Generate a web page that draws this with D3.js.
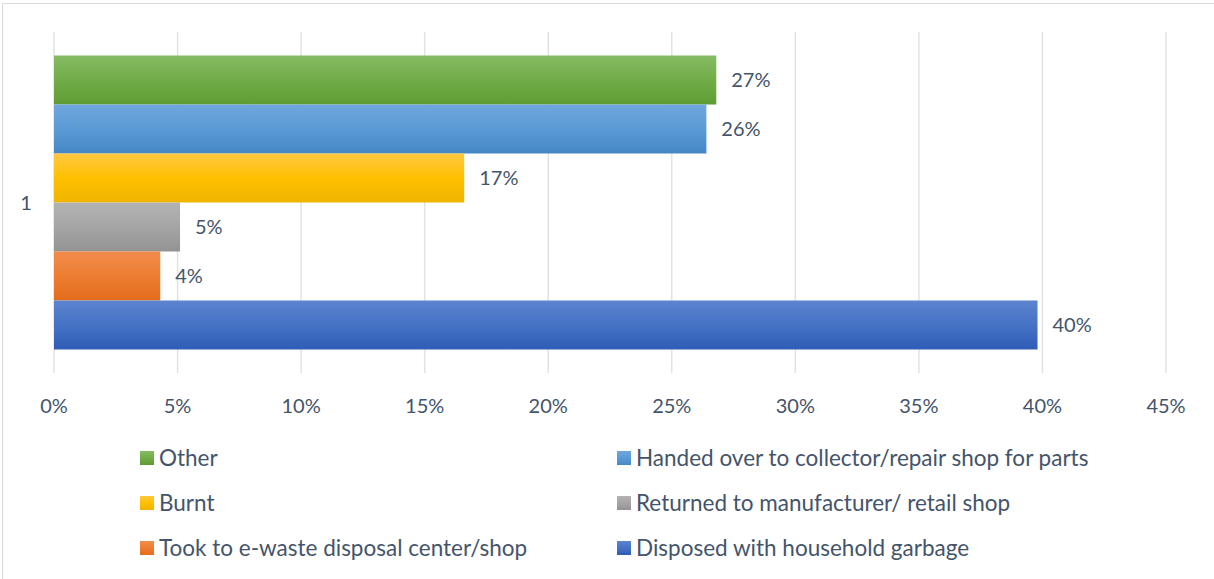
<!DOCTYPE html>
<html>
<head>
<meta charset="utf-8">
<script src="https://cdn.jsdelivr.net/npm/d3@7"></script>
<style>
  html, body { margin: 0; padding: 0; background: #fff; }
  svg { display: block; }
  text { font-family: Lato, "Open Sans", sans-serif; fill: #44546a; }
</style>
</head>
<body>
<svg id="chart" width="1214" height="579"></svg>
<script>
// Series, drawn top to bottom in this order
const seriesNames = [
  "Other",
  "Handed over to collector/repair shop for parts",
  "Burnt",
  "Returned to manufacturer/ retail shop",
  "Took to e-waste disposal center/shop",
  "Disposed with household garbage"
];
const seriesValues = [0.268, 0.264, 0.166, 0.051, 0.043, 0.398];
// [top, base, bottom] gradient colours for each series
const seriesColors = [
  ["#86bb64", "#70ad47", "#5e9c33"],
  ["#70a6de", "#5b9bd5", "#4586c6"],
  ["#ffc843", "#ffc000", "#f0b400"],
  ["#b3b3b3", "#a5a5a5", "#939393"],
  ["#f28c4c", "#ed7d31", "#e46b1c"],
  ["#5c84cf", "#4472c4", "#2f5db7"]
];
const categories = ["1"];
const xTicks = [0, 0.05, 0.10, 0.15, 0.20, 0.25, 0.30, 0.35, 0.40, 0.45];

const svg = d3.select("#chart");
const defs = svg.append("defs");

// Chart frame
svg.append("path")
  .attr("d", "M2.5,579 V3.5 H1214")
  .attr("fill", "none")
  .attr("stroke", "#d9d9d9")
  .attr("stroke-width", 1);

const plot = { left: 54, right: 1166, top: 32, bottom: 373 };

const x = d3.scaleLinear().domain([0, 0.45]).range([plot.left, plot.right]);
const yCat = d3.scaleBand().domain(categories).range([plot.top, plot.bottom]).paddingInner(0).paddingOuter(0.08);
const ySer = d3.scaleBand().domain(seriesNames).range([0, yCat.bandwidth()]);

// Vertical gridlines
svg.append("g")
  .selectAll("line")
  .data(xTicks)
  .join("line")
  .attr("x1", d => x(d)).attr("x2", d => x(d))
  .attr("y1", plot.top).attr("y2", plot.bottom)
  .attr("stroke", "#dfe2e7")
  .attr("stroke-width", 1.5);

// Gradients
seriesColors.forEach((c, i) => {
  const g = defs.append("linearGradient")
    .attr("id", "grad" + i)
    .attr("x1", 0).attr("y1", 0).attr("x2", 0).attr("y2", 1);
  g.append("stop").attr("offset", "0%").attr("stop-color", c[0]);
  g.append("stop").attr("offset", "50%").attr("stop-color", c[1]);
  g.append("stop").attr("offset", "100%").attr("stop-color", c[2]);
});

const rows = seriesNames.map((name, i) => ({ name, value: seriesValues[i], i }));
const catY = yCat(categories[0]);

// Bars
svg.append("g")
  .selectAll("rect")
  .data(rows)
  .join("rect")
  .attr("x", x(0))
  .attr("y", d => catY + ySer(d.name))
  .attr("width", d => x(d.value) - x(0))
  .attr("height", ySer.bandwidth())
  .attr("fill", d => "url(#grad" + d.i + ")");

// Value labels
const pct = d3.format(".0%");
svg.append("g")
  .selectAll("text")
  .data(rows)
  .join("text")
  .attr("x", d => x(d.value) + 15)
  .attr("y", d => catY + ySer(d.name) + ySer.bandwidth() / 2)
  .attr("dy", "0.35em")
  .attr("font-size", 20)
  .text(d => pct(d.value));

// Category label
svg.append("text")
  .attr("x", 26)
  .attr("y", catY + yCat.bandwidth() / 2)
  .attr("dy", "0.35em")
  .attr("text-anchor", "middle")
  .attr("font-size", 20)
  .text(categories[0]);

// X axis tick labels
svg.append("g")
  .selectAll("text")
  .data(xTicks)
  .join("text")
  .attr("x", d => x(d))
  .attr("y", 406)
  .attr("dy", "0.35em")
  .attr("text-anchor", "middle")
  .attr("font-size", 20)
  .text(d => pct(d));

// Legend in two columns
const legendCols = [140, 617];
const legendRows = [458, 503, 548];
const legend = svg.append("g")
  .selectAll("g")
  .data(rows)
  .join("g")
  .attr("transform", d => `translate(${legendCols[d.i % 2]},${legendRows[Math.floor(d.i / 2)]})`);
legend.append("rect")
  .attr("x", 0).attr("y", -7)
  .attr("width", 14).attr("height", 14)
  .attr("fill", d => "url(#grad" + d.i + ")");
legend.append("text")
  .attr("x", 19)
  .attr("y", 0)
  .attr("dy", "0.35em")
  .attr("font-size", 22.5)
  .text(d => d.name);
</script>
</body>
</html>
